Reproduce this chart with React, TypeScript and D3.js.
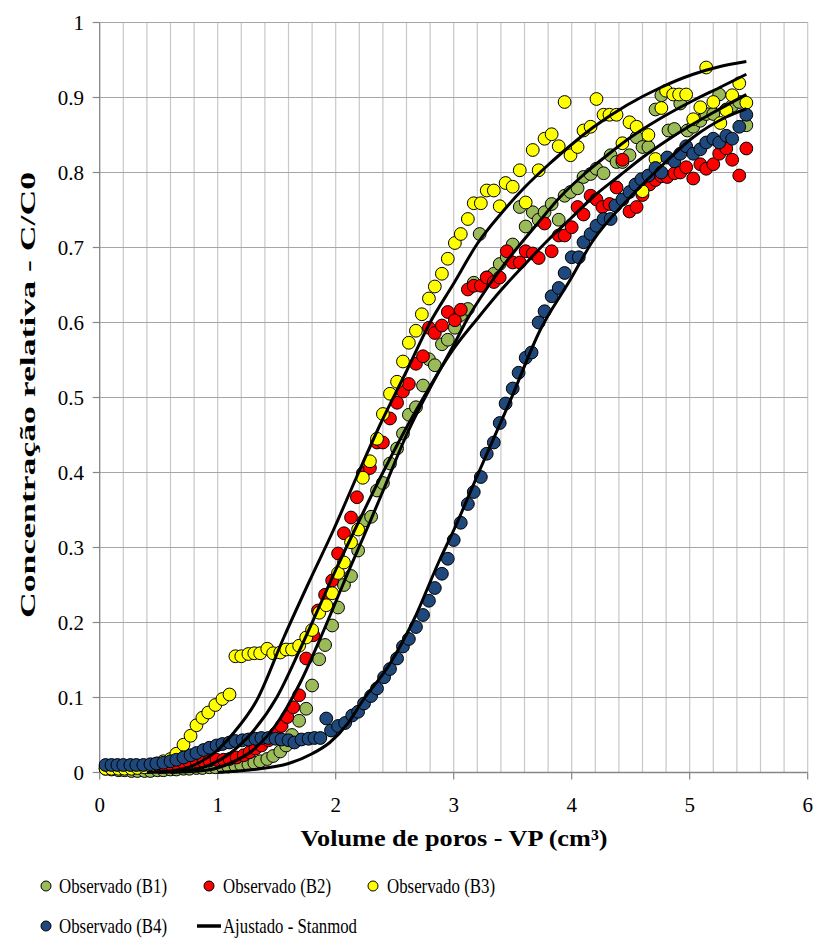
import React from "react";
import * as d3 from "d3";

type P = [number, number];

const xTicks = [0, 1, 2, 3, 4, 5, 6];
const yTicks = [0, 0.1, 0.2, 0.3, 0.4, 0.5, 0.6, 0.7, 0.8, 0.9, 1];
const yTickLabels = ["0", "0.1", "0.2", "0.3", "0.4", "0.5", "0.6", "0.7", "0.8", "0.9", "1"];

const seriesNames = ["Observado (B1)", "Observado (B2)", "Observado (B3)", "Observado (B4)"];
const fitName = "Ajustado - Stanmod";
const xTitle = "Volume de poros - VP (cm³)";
const yTitle = "Concentração relativa - C/C0";

const obsB1: P[] = [
  [0.05,0.005],[0.1,0.004],[0.16,0.003],[0.21,0.003],[0.27,0.002],[0.32,0.002],[0.38,0.002],[0.43,0.002],[0.49,0.003],[0.54,0.003],
  [0.6,0.004],[0.65,0.004],[0.71,0.005],[0.76,0.005],[0.82,0.006],[0.87,0.006],[0.93,0.007],[0.98,0.007],[1.04,0.008],[1.09,0.008],
  [1.15,0.009],[1.2,0.01],[1.26,0.011],[1.31,0.013],[1.36,0.015],[1.42,0.018],[1.47,0.022],[1.53,0.028],[1.58,0.036],[1.63,0.05],
  [1.69,0.069],[1.75,0.085],[1.8,0.116],[1.86,0.151],[1.91,0.17],[1.97,0.196],[2.02,0.22],[2.07,0.25],[2.13,0.262],[2.19,0.296],
  [2.24,0.336],[2.3,0.341],[2.35,0.376],[2.4,0.386],[2.46,0.412],[2.52,0.432],[2.57,0.452],[2.62,0.477],[2.68,0.487],[2.74,0.516],
  [2.79,0.551],[2.84,0.543],[2.9,0.571],[2.95,0.577],[3.01,0.593],[3.06,0.61],[3.12,0.618],[3.17,0.653],[3.22,0.718],[3.28,0.66],
  [3.34,0.665],[3.39,0.678],[3.45,0.687],[3.5,0.704],[3.56,0.754],[3.61,0.728],[3.67,0.747],[3.72,0.737],[3.77,0.747],[3.83,0.758],
  [3.89,0.737],[3.94,0.769],[3.99,0.774],[4.05,0.779],[4.1,0.794],[4.16,0.798],[4.21,0.805],[4.27,0.799],[4.33,0.823],[4.38,0.814],
  [4.43,0.814],[4.49,0.823],[4.55,0.847],[4.6,0.834],[4.65,0.834],[4.71,0.884],[4.76,0.903],[4.82,0.856],[4.87,0.858],[4.92,0.892],
  [4.98,0.856],[5.03,0.861],[5.09,0.869],[5.14,0.878],[5.2,0.878],[5.25,0.904],[5.31,0.884],[5.36,0.889],[5.42,0.894],[5.48,0.863],
];

const obsB2: P[] = [
  [0.05,0.008],[0.1,0.008],[0.16,0.008],[0.21,0.008],[0.27,0.008],[0.32,0.008],[0.38,0.009],[0.43,0.009],[0.49,0.01],[0.54,0.01],
  [0.6,0.011],[0.65,0.012],[0.71,0.013],[0.76,0.014],[0.82,0.015],[0.88,0.015],[0.93,0.016],[0.99,0.017],[1.05,0.017],[1.1,0.018],
  [1.16,0.02],[1.22,0.023],[1.27,0.027],[1.32,0.032],[1.37,0.036],[1.43,0.043],[1.49,0.052],[1.54,0.062],[1.59,0.074],[1.64,0.087],
  [1.69,0.103],[1.75,0.152],[1.81,0.183],[1.85,0.216],[1.91,0.237],[1.97,0.256],[2.02,0.292],[2.07,0.319],[2.13,0.34],[2.18,0.367],
  [2.23,0.399],[2.29,0.406],[2.35,0.44],[2.4,0.44],[2.46,0.472],[2.52,0.493],[2.57,0.508],[2.62,0.518],[2.68,0.545],[2.74,0.555],
  [2.79,0.593],[2.84,0.586],[2.9,0.596],[2.95,0.614],[3.01,0.603],[3.06,0.617],[3.12,0.644],[3.17,0.649],[3.23,0.649],[3.28,0.66],
  [3.34,0.654],[3.39,0.66],[3.45,0.695],[3.5,0.68],[3.56,0.68],[3.61,0.695],[3.67,0.692],[3.72,0.686],[3.77,0.732],[3.83,0.695],
  [3.89,0.716],[3.94,0.716],[4.0,0.727],[4.05,0.754],[4.1,0.744],[4.16,0.769],[4.21,0.764],[4.26,0.754],[4.32,0.758],[4.38,0.78],
  [4.43,0.817],[4.49,0.748],[4.55,0.754],[4.6,0.77],[4.66,0.784],[4.71,0.79],[4.76,0.795],[4.81,0.794],[4.87,0.799],[4.92,0.8],
  [4.97,0.807],[5.03,0.792],[5.09,0.811],[5.14,0.805],[5.2,0.811],[5.25,0.825],[5.31,0.832],[5.36,0.817],[5.42,0.796],[5.48,0.832],
];

const obsB3: P[] = [
  [0.05,0.005],[0.1,0.005],[0.16,0.005],[0.21,0.005],[0.27,0.005],[0.32,0.006],[0.38,0.007],[0.43,0.009],[0.49,0.012],[0.54,0.015],
  [0.6,0.018],[0.65,0.025],[0.71,0.037],[0.77,0.049],[0.82,0.063],[0.87,0.073],[0.92,0.08],[0.98,0.09],[1.04,0.098],[1.1,0.104],
  [1.15,0.155],[1.2,0.155],[1.26,0.158],[1.31,0.159],[1.36,0.159],[1.42,0.165],[1.47,0.159],[1.53,0.16],[1.58,0.164],[1.63,0.164],
  [1.69,0.169],[1.75,0.18],[1.8,0.19],[1.86,0.213],[1.92,0.223],[1.97,0.239],[2.02,0.266],[2.07,0.28],[2.13,0.307],[2.19,0.324],
  [2.23,0.393],[2.29,0.415],[2.35,0.445],[2.4,0.478],[2.46,0.505],[2.52,0.521],[2.57,0.548],[2.62,0.573],[2.68,0.589],[2.73,0.611],
  [2.79,0.632],[2.84,0.648],[2.9,0.665],[2.95,0.685],[3.01,0.706],[3.06,0.718],[3.12,0.738],[3.17,0.759],[3.23,0.759],[3.28,0.776],
  [3.34,0.776],[3.39,0.755],[3.44,0.786],[3.5,0.781],[3.56,0.803],[3.61,0.76],[3.67,0.83],[3.72,0.803],[3.77,0.845],[3.83,0.851],
  [3.89,0.835],[3.94,0.894],[3.99,0.823],[4.05,0.834],[4.1,0.856],[4.16,0.861],[4.21,0.898],[4.27,0.877],[4.32,0.877],[4.38,0.877],
  [4.43,0.839],[4.49,0.867],[4.55,0.861],[4.6,0.775],[4.65,0.85],[4.71,0.818],[4.76,0.886],[4.8,0.909],[4.86,0.904],[4.91,0.904],
  [4.97,0.904],[5.03,0.871],[5.09,0.887],[5.14,0.94],[5.2,0.894],[5.26,0.866],[5.31,0.883],[5.36,0.903],[5.42,0.919],[5.48,0.893],
];

const obsB4: P[] = [
  [0.05,0.01],[0.1,0.01],[0.15,0.01],[0.2,0.01],[0.26,0.01],[0.31,0.01],[0.37,0.01],[0.43,0.011],[0.48,0.012],[0.54,0.013],
  [0.6,0.015],[0.65,0.017],[0.71,0.02],[0.77,0.023],[0.82,0.026],[0.88,0.03],[0.93,0.033],[0.99,0.036],[1.04,0.038],[1.1,0.04],
  [1.15,0.042],[1.21,0.043],[1.26,0.044],[1.32,0.045],[1.37,0.046],[1.43,0.046],[1.49,0.045],[1.54,0.044],[1.6,0.043],[1.65,0.04],
  [1.71,0.044],[1.77,0.045],[1.82,0.046],[1.87,0.046],[1.92,0.072],[1.96,0.056],[2.02,0.062],[2.08,0.066],[2.14,0.076],[2.19,0.081],
  [2.24,0.092],[2.3,0.102],[2.35,0.112],[2.41,0.127],[2.46,0.138],[2.52,0.152],[2.57,0.168],[2.62,0.178],[2.68,0.194],[2.74,0.21],
  [2.79,0.229],[2.84,0.246],[2.9,0.265],[2.95,0.285],[3.0,0.31],[3.06,0.333],[3.12,0.358],[3.17,0.374],[3.23,0.394],[3.28,0.425],
  [3.34,0.44],[3.39,0.466],[3.44,0.492],[3.5,0.512],[3.55,0.533],[3.61,0.553],[3.66,0.56],[3.72,0.6],[3.77,0.615],[3.83,0.635],
  [3.89,0.646],[3.94,0.666],[4.0,0.687],[4.06,0.687],[4.1,0.707],[4.16,0.718],[4.21,0.729],[4.27,0.738],[4.33,0.738],[4.37,0.756],
  [4.43,0.764],[4.49,0.774],[4.54,0.784],[4.59,0.791],[4.65,0.796],[4.71,0.806],[4.76,0.8],[4.81,0.82],[4.87,0.815],[4.92,0.825],
  [4.97,0.835],[5.03,0.825],[5.09,0.831],[5.14,0.84],[5.2,0.845],[5.25,0.84],[5.31,0.849],[5.36,0.845],[5.42,0.861],[5.48,0.877],
];

const fitB1: P[] = [
  [0.6,0],[0.9,0.003],[1.1,0.012],[1.3,0.03],[1.5,0.065],[1.7,0.12],[1.9,0.19],[2.1,0.265],[2.26,0.323],[2.4,0.375],
  [2.6,0.45],[2.88,0.536],[3.0,0.57],[3.11,0.603],[3.3,0.65],[3.5,0.692],[3.7,0.73],[3.9,0.767],[4.1,0.797],[4.3,0.823],
  [4.5,0.847],[4.75,0.872],[5.03,0.896],[5.25,0.913],[5.48,0.931],
];
const fitB2: P[] = [
  [0.5,0],[0.7,0.002],[0.9,0.008],[1.1,0.025],[1.3,0.055],[1.5,0.1],[1.7,0.165],[1.9,0.235],[2.0,0.27],[2.16,0.323],
  [2.4,0.4],[2.6,0.46],[2.8,0.515],[2.88,0.536],[3.0,0.565],[3.2,0.605],[3.4,0.643],[3.6,0.677],[3.8,0.71],[4.0,0.74],
  [4.2,0.77],[4.4,0.795],[4.6,0.82],[4.8,0.842],[5.0,0.862],[5.2,0.88],[5.48,0.904],
];
const fitB3: P[] = [
  [0.4,0],[0.6,0.002],[0.8,0.01],[1.0,0.03],[1.13,0.052],[1.33,0.096],[1.56,0.18],[1.78,0.256],[1.98,0.323],[2.18,0.395],
  [2.38,0.465],[2.6,0.535],[2.8,0.6],[3.0,0.652],[3.2,0.705],[3.4,0.745],[3.6,0.78],[3.8,0.81],[3.9,0.824],[4.18,0.86],
  [4.47,0.89],[4.75,0.913],[5.03,0.931],[5.25,0.941],[5.48,0.948],
];
const fitB4: P[] = [
  [1.0,0],[1.3,0.004],[1.6,0.012],[1.8,0.025],[1.95,0.04],[2.1,0.065],[2.23,0.096],[2.46,0.145],[2.66,0.203],[2.88,0.283],
  [3.0,0.323],[3.22,0.403],[3.48,0.496],[3.73,0.589],[3.98,0.655],[4.18,0.709],[4.47,0.763],[4.75,0.807],[5.03,0.847],[5.31,0.874],
  [5.48,0.885],
];

const observed = [obsB1, obsB2, obsB3, obsB4];
const fits = [fitB1, fitB2, fitB3, fitB4];
const colors = ["#9BBB59", "#FF0000", "#FFFF00", "#1F497D"];

const W = 817;
const H = 939;
const FONT = "'Liberation Serif', 'Times New Roman', serif";

export default function App() {
  const x = d3.scaleLinear().domain([0, 6]).range([99.7, 807.7]);
  const y = d3.scaleLinear().domain([0, 1]).range([772.5, 22.5]);
  const minorX = d3.range(1, 31).map((i) => i * 0.2);
  const line = d3
    .line<P>()
    .x((d) => x(d[0]))
    .y((d) => y(d[1]))
    .curve(d3.curveMonotoneX);

  const legendRow1 = 886;
  const legendRow2 = 926;
  const legendItems = [
    { c: colors[0], mx: 46, tx: 59, ty: legendRow1, w: 108, label: seriesNames[0] },
    { c: colors[1], mx: 209, tx: 223, ty: legendRow1, w: 108, label: seriesNames[1] },
    { c: colors[2], mx: 373, tx: 387, ty: legendRow1, w: 108, label: seriesNames[2] },
    { c: colors[3], mx: 46, tx: 59, ty: legendRow2, w: 108, label: seriesNames[3] },
  ];

  return (
    <svg
      width={W}
      height={H}
      style={{ position: "absolute", left: 0, top: 0, background: "#fff", fontFamily: FONT }}
    >
      <rect x={0} y={0} width={W} height={H} fill="#fff" />
      {minorX.map((v, i) => (
        <line key={"vg" + i} x1={x(v)} x2={x(v)} y1={y(1)} y2={y(0)} stroke="#c8c8c8" strokeWidth={1.2} />
      ))}
      {yTicks.slice(1).map((v, i) => (
        <line key={"hg" + i} x1={x(0)} x2={x(6)} y1={y(v)} y2={y(v)} stroke="#a6a6a6" strokeWidth={1.2} />
      ))}
      <line x1={x(0)} x2={x(0)} y1={y(1)} y2={y(0)} stroke="#868686" strokeWidth={1.3} />
      <line x1={x(0)} x2={x(6)} y1={y(0)} y2={y(0)} stroke="#868686" strokeWidth={1.3} />
      {yTicks.map((v, i) => (
        <line key={"yt" + i} x1={x(0) - 7} x2={x(0)} y1={y(v)} y2={y(v)} stroke="#868686" strokeWidth={1.2} />
      ))}
      {xTicks.map((v, i) => (
        <line key={"xt" + i} x1={x(v)} x2={x(v)} y1={y(0)} y2={y(0) + 7} stroke="#868686" strokeWidth={1.2} />
      ))}
      {yTicks.map((v, i) => (
        <text key={"yl" + i} x={84} y={y(v) + 7} textAnchor="end" fontSize={21} fill="#000">
          {yTickLabels[i]}
        </text>
      ))}
      {xTicks.map((v, i) => (
        <text key={"xl" + i} x={x(v)} y={812} textAnchor="middle" fontSize={21} fill="#000">
          {String(v)}
        </text>
      ))}
      <text x={454} y={846} textAnchor="middle" fontSize={23} fontWeight="bold" textLength={307} lengthAdjust="spacingAndGlyphs">
        {xTitle}
      </text>
      <text
        transform={`translate(35,395) rotate(-90)`}
        textAnchor="middle"
        fontSize={21}
        fontWeight="bold"
        textLength={446}
        lengthAdjust="spacingAndGlyphs"
      >
        {yTitle}
      </text>
      {observed.map((s, si) => (
        <g key={"s" + si}>
          {s.map((d, i) => (
            <circle key={i} cx={x(d[0])} cy={y(d[1])} r={6.4} fill={colors[si]} stroke="#000" strokeWidth={1} />
          ))}
        </g>
      ))}
      {fits.map((f, i) => (
        <path key={"f" + i} d={line(f) || ""} fill="none" stroke="#000" strokeWidth={3} />
      ))}
      {legendItems.map((it, i) => (
        <g key={"lg" + i}>
          <circle cx={it.mx} cy={it.ty} r={5} fill={it.c} stroke="#000" strokeWidth={1} />
          <text x={it.tx} y={it.ty + 7} fontSize={22} textLength={it.w} lengthAdjust="spacingAndGlyphs">
            {it.label}
          </text>
        </g>
      ))}
      <line x1={197} x2={221} y1={legendRow2} y2={legendRow2} stroke="#000" strokeWidth={3.5} />
      <text x={223} y={legendRow2 + 7} fontSize={22} textLength={134} lengthAdjust="spacingAndGlyphs">
        {fitName}
      </text>
    </svg>
  );
}
